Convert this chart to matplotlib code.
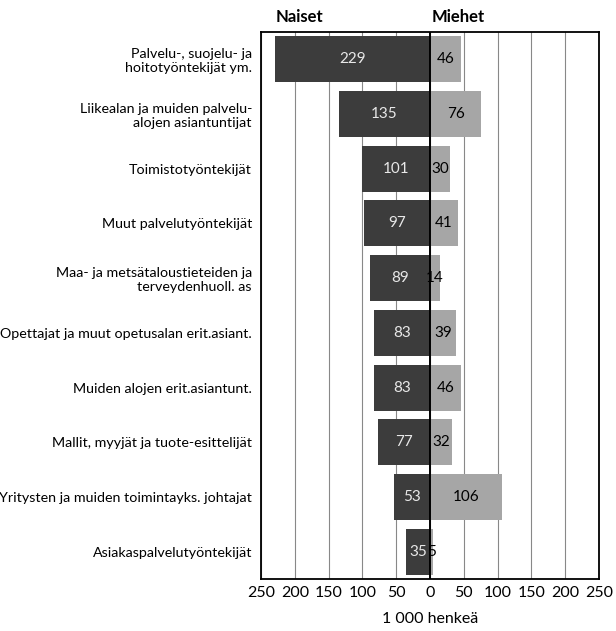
import matplotlib.pyplot as plt
from matplotlib.ticker import FuncFormatter
import numpy as np

plt.rcParams['font.family'] = ['Lato', 'DejaVu Sans']

categories = [
    "Palvelu-, suojelu- ja\nhoitotyöntekijät ym.",
    "Liikealan ja muiden palvelu-\nalojen asiantuntijat",
    "Toimistotyöntekijät",
    "Muut palvelutyöntekijät",
    "Maa- ja metsätaloustieteiden ja\nterveydenhuoll. as",
    "Opettajat ja muut opetusalan erit.asiant.",
    "Muiden alojen erit.asiantunt.",
    "Mallit, myyjät ja tuote-esittelijät",
    "Yritysten ja muiden toimintayks. johtajat",
    "Asiakaspalvelutyöntekijät",
]
naiset = [229, 135, 101, 97, 89, 83, 83, 77, 53, 35]
miehet = [46, 76, 30, 41, 14, 39, 46, 32, 106, 5]
ticks = [-250, -200, -150, -100, -50, 0, 50, 100, 150, 200, 250]

fig = plt.figure(figsize=(6.16, 6.31), dpi=100)
ax = fig.add_axes([0.4237, 0.0824, 0.5489, 0.8669])

y = np.arange(len(categories))
dark = '#3c3c3c'
light = '#a6a6a6'

ax.set_axisbelow(True)
ax.grid(axis='x', color='#888888', linewidth=0.8)
ax.barh(y, [-v for v in naiset], height=0.84, color=dark)
ax.barh(y, miehet, height=0.84, color=light)
ax.axvline(0, color='black', linewidth=1.4)

for i in range(len(categories)):
    ax.text(-naiset[i] / 2, y[i], str(naiset[i]), ha='center', va='center',
            color='#e8e8e8', fontsize=11)
    ax.text(miehet[i] / 2, y[i], str(miehet[i]), ha='center', va='center',
            color='black', fontsize=11)

ax.set_xlim(-250, 250)
ax.set_ylim(len(categories) - 0.5, -0.5)
ax.set_xticks(ticks)
ax.xaxis.set_major_formatter(FuncFormatter(lambda v, p: f"{abs(int(v))}"))
ax.tick_params(axis='x', length=0, labelsize=11.5, pad=5)
ax.set_yticks(y)
ax.set_yticklabels(categories, fontsize=10.3)
ax.tick_params(axis='y', length=0, pad=6.5)
for s in ax.spines.values():
    s.set_linewidth(1.3)

ax.set_xlabel("1 000 henkeä", fontsize=11.5, labelpad=9)
ax.text(-228, -0.62, "Naiset", fontsize=12, fontweight='bold', ha='left', va='bottom')
ax.text(2, -0.62, "Miehet", fontsize=12, fontweight='bold', ha='left', va='bottom')

fig.savefig('out.png', dpi=100)
